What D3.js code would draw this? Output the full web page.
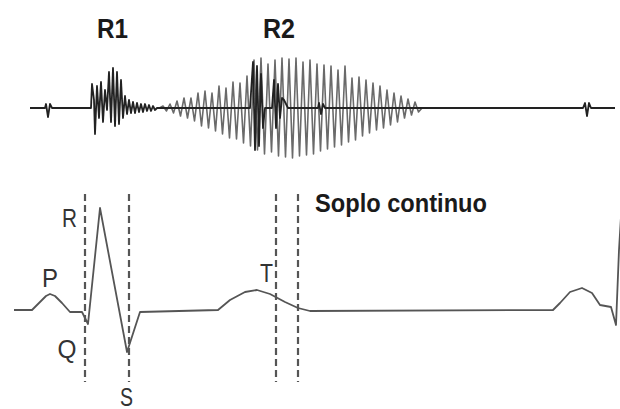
<!DOCTYPE html>
<html>
<head>
<meta charset="utf-8">
<script src="https://cdn.jsdelivr.net/npm/d3@7"></script>
<style>
	body{ margin:0; background:#fff; }
	svg{ display:block; }
	.lbl-bold{ font-family:"Liberation Sans", Arial, sans-serif; font-weight:bold; fill:#1a1a1a; }
	.lbl-ecg{ font-family:"Liberation Sans", Arial, sans-serif; fill:#333; }
</style>
</head>
<body>
<div id="chart"></div>
<script>
// time in ms, phonocardiogram amplitude in arbitrary units, ECG in mV

// baseline of the phonogram with R1, R2 and the small blips
var phonoTrace = [
	[60,0],[90,0],[92,0.08],[96,-0.18],[100,0.08],[104,0],
	[182,0],[184,0.48],[188,0.16],[190,-0.52],[194,0.44],[198,-0.2],[202,0.52],[206,-0.28],
	[210,0.36],[214,-0.04],[218,0.72],[222,-0.28],[226,0.8],[230,-0.36],[234,0.72],[238,-0.32],
	[242,0.56],[246,-0.2],[250,0.24],[254,-0.12],[258,0.16],[262,-0.1],[266,0.12],[270,-0.1],
	[274,0.1],[278,-0.08],[282,0.08],[286,-0.08],[290,0.08],[294,-0.06],[298,0.06],[302,-0.06],
	[306,0.04],[310,-0.04],[314,0],
	[500,0],[506,0.92],[510,-0.84],[514,0.84],[518,-0.76],[522,0.68],[526,-0.4],[530,0],
	[544,0],[548,0.56],[552,-0.4],[556,0.48],[560,-0.2],[564,0.2],[568,0.16],[576,0],
	[636,0],[638,0.1],[642,-0.12],[646,0.08],[650,0],
	[1166,0],[1170,0.1],[1174,-0.16],[1178,0.1],[1182,0],[1230,0]
];

// continuous murmur: one entry per oscillation [t, upper peak, lower peak]
var murmurCycles = [
	[326,0.04,-0.06],[340,0.08,-0.1],[354,0.14,-0.16],[368,0.2,-0.2],[382,0.2,-0.26],
	[396,0.3,-0.36],[410,0.34,-0.4],[424,0.3,-0.46],[438,0.44,-0.52],[452,0.4,-0.6],
	[466,0.52,-0.62],[480,0.5,-0.7],[494,0.64,-0.76],[508,0.96,-0.84],[522,1.0,-0.92],
	[536,0.88,-0.88],[550,0.96,-0.96],[564,1.0,-0.98],[578,0.98,-1.0],[592,1.0,-0.96],
	[606,0.92,-0.94],[620,0.96,-0.92],[634,0.88,-0.86],[648,0.86,-0.82],[662,0.84,-0.78],
	[676,0.76,-0.74],[690,0.84,-0.68],[704,0.6,-0.64],[718,0.62,-0.56],[732,0.56,-0.5],
	[746,0.5,-0.44],[760,0.44,-0.4],[774,0.36,-0.34],[788,0.3,-0.28],[802,0.24,-0.2],
	[816,0.18,-0.14],[830,0.12,-0.08]
];

var ecgTrace = [
	[28,0],[64,0],[80,0.08],[92,0.14],[100,0.16],[110,0.14],[124,0.07],[140,-0.02],[164,-0.02],
	[176,-0.14],[200,1.02],[254,-0.42],[280,-0.02],[436,0],[460,0.1],[490,0.18],[514,0.2],
	[540,0.16],[570,0.08],[596,0.02],[620,-0.01],[1106,0],[1120,0.07],[1140,0.18],[1164,0.22],
	[1184,0.17],[1200,0.05],[1222,0.03],[1232,-0.15],[1238,0.6],[1244,1.1]
];

// dashed markers (ms) and their vertical extent (mV)
var markerTimes = [170, 258, 552, 596];
var markerSpan = [1.16, -0.72];

var soundLabels = [
	{text:"R1", t:225, len:31},
	{text:"R2", t:558, len:32}
];
var waveLabels = [
	{text:"P", t:100, mv:0.23, len:16},
	{text:"R", t:139, mv:0.83, len:15},
	{text:"Q", t:134, mv:-0.48, len:19},
	{text:"S", t:253, mv:-0.955, len:13},
	{text:"T", t:533, mv:0.28, len:13}
];
var murmurTitle = "Soplo continuo";

var width = 620, height = 409;

var svg = d3.select("#chart").append("svg")
	.attr("width", width)
	.attr("height", height);

var x = d3.scaleLinear().domain([0, 1240]).range([0, 620]);
var yPhono = d3.scaleLinear().domain([-1, 1]).range([158, 58]);
var yEcg = d3.scaleLinear().domain([-1, 1]).range([410, 210]);

var phonoLine = d3.line()
	.x(function(d){ return x(d[0]); })
	.y(function(d){ return yPhono(d[1]); });

var ecgLine = d3.line()
	.x(function(d){ return x(d[0]); })
	.y(function(d){ return yEcg(d[1]); });

// murmur zigzag: rise to upper peak, fall to lower peak half a cycle later
function murmurPoints(cycles){
	var pts = [[cycles[0][0] - 7, 0]];
	cycles.forEach(function(c, i){
		var next = i < cycles.length - 1 ? cycles[i+1][0] : c[0] + 14;
		pts.push([c[0], c[1]]);
		pts.push([(c[0] + next) / 2, c[2]]);
	});
	pts.push([cycles[cycles.length-1][0] + 14, 0]);
	return pts;
}

var defs = svg.append("defs");
defs.append("filter")
	.attr("id", "soft")
	.append("feGaussianBlur")
	.attr("stdDeviation", 0.45);

var phono = svg.append("g").attr("id", "phono").attr("filter", "url(#soft)");

phono.append("path")
	.datum(murmurPoints(murmurCycles))
	.attr("d", phonoLine)
	.attr("fill", "none")
	.attr("stroke", "#6a6a6a")
	.attr("stroke-width", 1.6)
	.attr("stroke-linejoin", "round");

phono.append("path")
	.datum(phonoTrace)
	.attr("d", phonoLine)
	.attr("fill", "none")
	.attr("stroke", "#222")
	.attr("stroke-width", 1.8)
	.attr("stroke-linejoin", "round");

svg.selectAll(".sound-label")
	.data(soundLabels)
	.enter().append("text")
	.attr("class", "lbl-bold sound-label")
	.attr("x", function(d){ return x(d.t); })
	.attr("y", 38)
	.attr("text-anchor", "middle")
	.attr("font-size", 27)
	.attr("textLength", function(d){ return d.len; })
	.attr("lengthAdjust", "spacingAndGlyphs")
	.text(function(d){ return d.text; });

var ecg = svg.append("g").attr("id", "ecg");

ecg.selectAll(".marker")
	.data(markerTimes)
	.enter().append("line")
	.attr("class", "marker")
	.attr("x1", function(d){ return x(d); })
	.attr("x2", function(d){ return x(d); })
	.attr("y1", yEcg(markerSpan[0]))
	.attr("y2", yEcg(markerSpan[1]))
	.attr("stroke", "#555")
	.attr("stroke-width", 2.2)
	.attr("stroke-dasharray", "7,4");

ecg.append("path")
	.datum(ecgTrace)
	.attr("d", ecgLine)
	.attr("fill", "none")
	.attr("stroke", "#555")
	.attr("stroke-width", 1.8)
	.attr("stroke-linejoin", "round");

ecg.selectAll(".wave-label")
	.data(waveLabels)
	.enter().append("text")
	.attr("class", "lbl-ecg wave-label")
	.attr("x", function(d){ return x(d.t); })
	.attr("y", function(d){ return yEcg(d.mv); })
	.attr("text-anchor", "middle")
	.attr("font-size", 25)
	.attr("textLength", function(d){ return d.len; })
	.attr("lengthAdjust", "spacingAndGlyphs")
	.text(function(d){ return d.text; });

svg.append("text")
	.attr("class", "lbl-bold")
	.attr("x", 315)
	.attr("y", 212)
	.attr("font-size", 25)
	.attr("textLength", 172)
	.attr("lengthAdjust", "spacingAndGlyphs")
	.text(murmurTitle);
</script>
</body>
</html>
